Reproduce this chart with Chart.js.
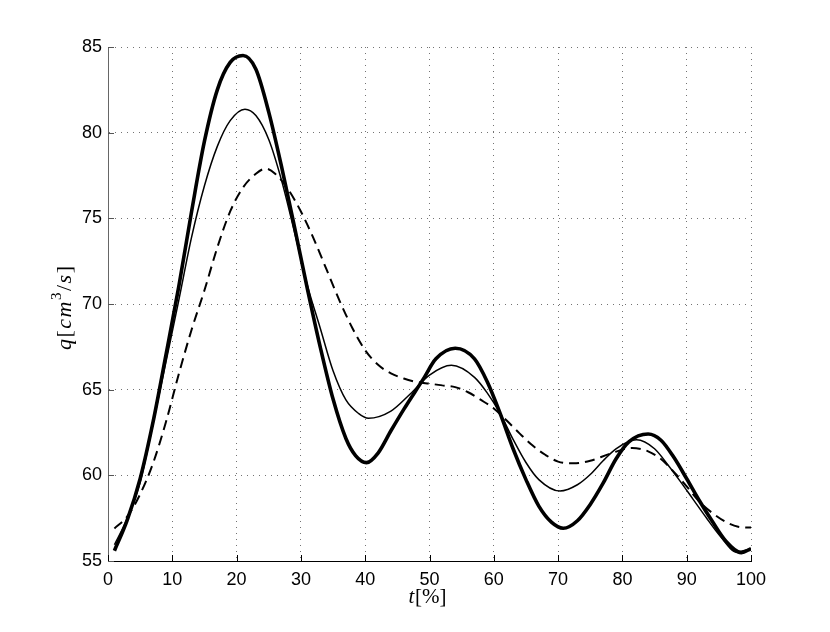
<!DOCTYPE html>
<html>
<head>
<meta charset="utf-8">
<script src="https://cdn.jsdelivr.net/npm/chart.js@4/dist/chart.umd.min.js"></script>
<style>
  html, body { margin: 0; padding: 0; background: #fff; }
  #wrap { width: 830px; height: 632px; }
</style>
</head>
<body>
<div id="wrap"><canvas id="flowChart" width="830" height="632"></canvas></div>
<script>
// thick solid curve: t [%] and q [cm^3/s]
const tThick = [1, 3, 5, 7, 9, 11, 13, 15, 17, 19, 21, 23, 25, 27, 29, 31, 33, 35, 37, 38.5, 40.2,
  42, 44, 46, 49, 51, 54, 57, 59, 61, 63, 65, 67, 69, 70.8, 73, 75, 77, 79, 81, 84,
  86, 88, 90, 92, 94, 96, 98.5, 100];
const qThick = [55.6, 57.4, 59.8, 63.1, 67.0, 71.0, 75.4, 79.5, 82.5, 84.1, 84.5, 83.7, 81.2, 78.0, 74.5, 70.9, 67.5, 64.45, 62.15, 61.15, 60.74,
  61.3, 62.6, 63.85, 65.6, 66.8, 67.42, 66.8, 65.45, 63.6, 61.55, 59.75, 58.2, 57.25, 56.91, 57.35, 58.3, 59.54, 60.95, 61.95, 62.41,
  62.05, 61.05, 59.8, 58.5, 57.3, 56.2, 55.49, 55.72];

// thin solid curve
const tThin = [1, 3, 5, 7, 9, 11, 13, 15, 17, 19, 21.3, 23, 25, 27, 29, 31, 33, 35, 37, 39, 40.5,
  44, 47, 50, 53.4, 57, 59, 61, 63, 65, 67, 70.3, 73, 75, 77, 79, 82.2,
  85, 87, 89, 91, 93, 95, 97.8, 100];
const qThin = [55.95, 57.5, 59.6, 63.0, 66.6, 70.2, 73.9, 76.9, 79.2, 80.7, 81.37, 81.0, 79.6, 77.2, 74.2, 71.1, 68.6, 66.1, 64.4, 63.6, 63.33,
  63.75, 64.75, 65.85, 66.42, 65.72, 64.8, 63.6, 62.1, 60.75, 59.75, 59.08, 59.45, 60.05, 60.85, 61.55, 62.07,
  61.55, 60.65, 59.65, 58.6, 57.55, 56.55, 55.52, 55.72];

// dashed curve
const tDashed = [1, 3, 5, 7, 9, 11, 13, 15, 17, 19, 21, 23, 24.5, 26, 28, 30, 32, 34, 36, 38, 40,
  42, 44, 46, 48, 50, 52, 54, 56, 58, 60, 62, 64, 66, 68, 70, 72.4, 75, 78, 81.5,
  84, 86, 88, 90, 92, 94, 96, 98, 100];
const qDashed = [56.9, 57.6, 58.9, 60.7, 63.1, 65.9, 68.5, 70.8, 73.3, 75.4, 76.8, 77.6, 77.9, 77.6, 76.7, 75.4, 73.8, 72.0, 70.2, 68.6, 67.3,
  66.45, 65.95, 65.65, 65.45, 65.35, 65.25, 65.15, 64.85, 64.4, 63.9, 63.2, 62.45, 61.75, 61.2, 60.8, 60.7, 60.85, 61.25, 61.6,
  61.4, 60.95, 60.2, 59.35, 58.45, 57.8, 57.3, 57.0, 56.95];

const xTicks = [0, 10, 20, 30, 40, 50, 60, 70, 80, 90, 100];
const yTicks = [55, 60, 65, 70, 75, 80, 85];

const toPoints = (ts, qs) => qs.map((q, i) => ({ x: ts[i], y: q }));

const tickFont = { family: 'Liberation Sans, Arial, sans-serif', size: 18 };
const mathFont = 'Liberation Serif, Times New Roman, serif';

// spreads the pieces of a label over a target width, centred on cx
function drawParts(ctx, parts, cx, baseY, target) {
  let natural = 0;
  parts.forEach((p) => {
    ctx.font = p.f;
    natural += ctx.measureText(p.s).width;
  });
  const gap = Math.max(0, (target - natural) / (parts.length - 1));
  let x = cx - (natural + gap * (parts.length - 1)) / 2;
  parts.forEach((p) => {
    ctx.font = p.f;
    ctx.fillText(p.s, x, baseY + p.dy);
    x += ctx.measureText(p.s).width + gap;
  });
}

// inward tick marks and the TeX-like axis titles
const axisExtras = {
  id: 'axisExtras',
  afterDraw(chart) {
    const ctx = chart.ctx;
    const xs = chart.scales.x;
    const ys = chart.scales.y;
    const area = chart.chartArea;
    ctx.save();
    ctx.lineWidth = 1;
    ctx.strokeStyle = '#000';
    xTicks.forEach((v) => {
      const px = Math.round(xs.getPixelForValue(v)) + 0.5;
      ctx.beginPath();
      ctx.moveTo(px, area.bottom);
      ctx.lineTo(px, area.bottom - 6);
      ctx.stroke();
    });
    ctx.strokeStyle = '#555';
    yTicks.forEach((v) => {
      const py = Math.round(ys.getPixelForValue(v)) + 0.5;
      ctx.beginPath();
      ctx.moveTo(area.left, py);
      ctx.lineTo(area.left + 6, py);
      ctx.stroke();
    });

    ctx.fillStyle = '#000';
    ctx.textBaseline = 'alphabetic';
    ctx.textAlign = 'left';

    // x title: t[%]
    const xParts = [
      { s: 't', f: 'italic 21px ' + mathFont, dy: 0 },
      { s: '[%]', f: '21px ' + mathFont, dy: 0 },
    ];
    drawParts(ctx, xParts, (area.left + area.right) / 2 - 2, 603, 38);

    // y title: q[cm^3/s], rotated
    const yParts = [
      { s: 'q', f: 'italic 22px ' + mathFont, dy: 0 },
      { s: '[', f: '22px ' + mathFont, dy: 0 },
      { s: 'c', f: 'italic 22px ' + mathFont, dy: 0 },
      { s: 'm', f: 'italic 22px ' + mathFont, dy: 0 },
      { s: '3', f: '15px ' + mathFont, dy: -10 },
      { s: '/', f: '22px ' + mathFont, dy: 0 },
      { s: 's', f: 'italic 22px ' + mathFont, dy: 0 },
      { s: ']', f: '22px ' + mathFont, dy: 0 },
    ];
    ctx.translate(71, 308);
    ctx.rotate(-Math.PI / 2);
    drawParts(ctx, yParts, 0, 0, 84);
    ctx.restore();
  },
};

const lineBase = {
  borderColor: '#000',
  pointRadius: 0,
  cubicInterpolationMode: 'monotone',
  fill: false,
};

const ctx = document.getElementById('flowChart').getContext('2d');
new Chart(ctx, {
  type: 'line',
  data: {
    datasets: [
      { ...lineBase, label: 'dashed', data: toPoints(tDashed, qDashed), borderWidth: 2, borderDash: [10, 6] },
      { ...lineBase, label: 'thin', data: toPoints(tThin, qThin), borderWidth: 1.5 },
      { ...lineBase, label: 'thick', data: toPoints(tThick, qThick), borderWidth: 3.6 },
    ],
  },
  options: {
    responsive: false,
    animation: false,
    layout: { padding: { left: 0, right: 79, top: 47, bottom: 0 } },
    plugins: {
      legend: { display: false },
      tooltip: { enabled: false },
    },
    scales: {
      x: {
        type: 'linear',
        min: 0,
        max: 100,
        afterFit: (scale) => { scale.height = 71; },
        afterBuildTicks: (scale) => { scale.ticks = xTicks.map((v) => ({ value: v })); },
        ticks: { color: '#000', font: tickFont, padding: 8, maxRotation: 0 },
        grid: { color: 'rgba(0,0,0,0.55)', lineWidth: 1, drawTicks: false },
        border: { color: '#000', width: 1, dash: [1, 5] },
      },
      y: {
        min: 55,
        max: 85,
        afterFit: (scale) => { scale.width = 108; },
        afterBuildTicks: (scale) => { scale.ticks = yTicks.map((v) => ({ value: v })); },
        ticks: { color: '#000', font: tickFont, padding: 6 },
        grid: { color: 'rgba(0,0,0,0.55)', lineWidth: 1, drawTicks: false },
        border: { color: '#666', width: 1, dash: [1, 5] },
      },
    },
  },
  plugins: [axisExtras],
});
</script>
</body>
</html>
